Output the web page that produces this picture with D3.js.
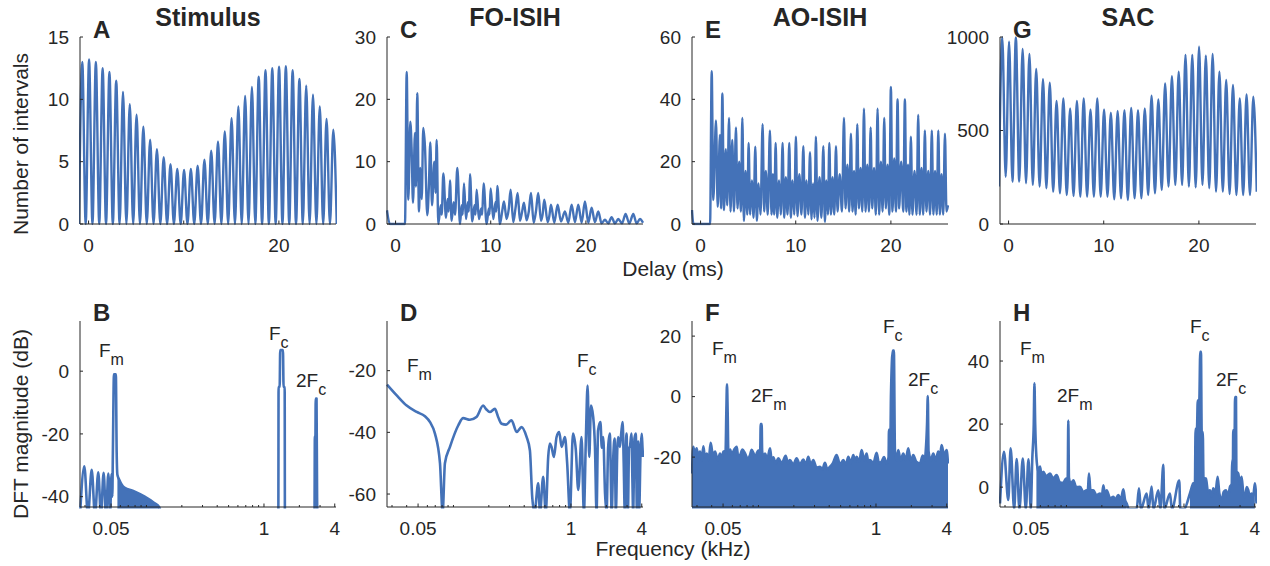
<!DOCTYPE html>
<html>
<head>
<meta charset="utf-8">
<script src="https://cdn.jsdelivr.net/npm/d3@7/dist/d3.min.js"></script>
<style>
  body { margin: 0; background: #fff; }
  svg text { font-family: "Liberation Sans", Arial, sans-serif; fill: #262626; }
</style>
</head>
<body>
<svg id="chart" width="1270" height="566"></svg>
<script>
// tick values
var delayTicks = [0, 10, 20];
var freqTicks = [0.05, 1, 4];
var freqMinor = [0.03, 0.04, 0.06, 0.07, 0.08, 0.09, 0.1, 0.2, 0.3, 0.4, 0.5, 0.6, 0.7, 0.8, 0.9, 2, 3];

// A and G: one peak per carrier cycle (delay in ms)
var cycleStart = -0.66, cyclePeriod = 0.713;
var stimPeaks = [13.0, 13.2, 13.0, 12.5, 12.2, 11.5, 10.6, 9.6, 8.77, 7.8, 6.77, 6.0, 5.35, 4.79, 4.41, 4.33,
    4.41, 4.68, 5.16, 5.88, 6.63, 7.43, 8.48, 9.43, 10.27, 10.99, 11.82, 12.33, 12.49, 12.62, 12.65, 12.33,
    11.63, 11.1, 10.37, 9.43, 8.42, 7.57];
var sacPeaks = [998, 975, 998, 936, 909, 829, 775, 755, 658, 672, 618, 658, 672, 612, 672, 612, 595, 604, 609,
    621, 609, 618, 686, 666, 752, 791, 814, 904, 904, 948, 900, 909, 814, 770, 743, 672, 693, 681];
var sacTroughs = [253, 227, 227, 218, 209, 200, 191, 173, 164, 155, 150, 146, 146, 146, 146, 146, 132, 137, 128,
    137, 137, 155, 164, 182, 200, 209, 209, 200, 196, 209, 191, 173, 173, 160, 155, 155, 155, 173];

// C: first-order ISIH, [delay ms, count]
var foIsih = [[-0.9, 2.2], [-0.6, 0], [0.99, 0], [1.17, 24.4], [1.34, 3.9], [1.55, 16.4], [1.69, 11.9], [1.83, 3.4],
    [2.04, 14.6], [2.14, 6], [2.28, 21], [2.46, 2.0], [2.6, 9], [2.75, 4], [2.91, 15.4], [3.09, 12.4], [3.33, 1.4],
    [3.5, 6], [3.65, 13.1], [3.83, 3], [4.07, 10], [4.2, 5], [4.32, 13.5], [4.49, 0], [4.75, 3], [4.85, 1.5],
    [5.02, 8.1], [5.3, 1.0], [5.47, 4], [5.58, 2], [5.72, 7.0], [5.89, 0.5], [6.1, 3.5], [6.25, 1.5], [6.49, 9.0],
    [6.77, 0], [6.95, 3], [7.05, 1.5], [7.19, 6.5], [7.4, 0.8], [7.6, 3.5], [7.7, 2], [7.82, 8.0], [8.06, 0.4],
    [8.3, 3], [8.4, 1.5], [8.52, 5.5], [8.76, 0.8], [9.0, 2.5], [9.1, 1.5], [9.25, 6.5], [9.57, 0], [9.8, 2.5],
    [9.87, 1.5], [9.99, 5.7], [10.27, 0.8], [10.5, 3.5], [10.58, 2], [10.69, 6.1], [10.97, 0], [11.2, 2],
    [11.39, 3.6], [11.67, 0.8], [11.9, 2.5], [12.09, 5.5], [12.37, 0.3], [12.6, 2.5], [12.83, 5.0], [13.07, 0.5],
    [13.3, 2], [13.49, 3.4], [13.77, 0.6], [14.0, 2], [14.23, 5.0], [14.51, 0.2], [14.75, 2], [14.99, 5.0],
    [15.28, 0.5], [15.45, 1.5], [15.63, 3.9], [15.98, 0.3], [16.15, 1.2], [16.33, 3.1], [16.68, 0.2], [17.03, 3.1],
    [17.38, 0.4], [17.8, 2.0], [18.15, 0.2], [18.5, 3.1], [18.85, 0.3], [19.2, 3.1], [19.55, 0.2], [19.9, 3.6],
    [20.25, 0.2], [20.6, 2.6], [20.95, 0.3], [21.3, 2.0], [21.65, 0.1], [22.0, 0.7], [22.35, 0.1], [22.7, 1.1],
    [23.05, 0.1], [23.4, 0.8], [23.79, 0.1], [24.17, 1.6], [24.56, 0.1], [24.98, 1.6], [25.33, 0.1], [25.68, 0.8],
    [26.0, 0.2]];

// E: all-order ISIH, [delay ms, count]
var aoIsih = [[-0.9, 4.5], [-0.75, 0], [1.0, 0], [1.17, 49], [1.34, 7.7], [1.62, 33.2], [1.8, 5.5], [2.04, 28.6],
    [2.15, 5], [2.29, 41.9], [2.46, 4.5], [2.65, 24], [2.8, 6],
    [2.99, 34], [3.15, 4], [3.33, 27], [3.51, 4], [3.72, 31], [3.88, 5], [4.06, 20], [4.24, 4],
    [4.39, 34], [4.55, 1], [4.73, 17], [4.91, 3], [5.05, 26], [5.21, 3], [5.39, 14], [5.57, 2],
    [5.75, 24.8], [5.91, 1], [6.09, 13], [6.3, 3], [6.52, 32], [6.68, 4], [6.86, 17], [7.06, 3],
    [7.29, 30], [7.45, 3], [7.6, 16], [7.74, 3], [7.89, 26], [8.05, 2], [8.25, 14], [8.43, 3],
    [8.62, 26], [8.78, 2], [8.96, 15], [9.14, 3], [9.32, 26], [9.48, 2], [9.66, 14], [9.84, 3],
    [10.02, 28], [10.18, 2.5], [10.38, 16], [10.6, 3], [10.8, 25], [10.96, 2], [11.14, 14], [11.32, 3],
    [11.5, 23], [11.66, 1.5], [11.82, 13], [11.97, 2], [12.12, 28], [12.28, 1], [12.5, 15], [12.7, 2],
    [12.9, 25], [13.06, 0.7], [13.22, 14], [13.38, 3], [13.53, 26], [13.69, 3], [13.87, 15], [14.05, 3],
    [14.23, 25], [14.39, 4], [14.62, 16], [14.86, 4], [15.07, 34], [15.23, 5], [15.43, 19], [15.62, 4],
    [15.8, 29], [15.96, 4], [16.13, 17], [16.3, 3], [16.47, 32], [16.63, 5], [16.82, 18], [17.0, 4],
    [17.17, 37], [17.33, 4], [17.52, 19], [17.7, 4], [17.87, 31], [18.03, 5], [18.23, 18], [18.42, 3],
    [18.6, 37], [18.76, 3], [18.95, 20], [19.13, 4], [19.3, 34], [19.46, 5], [19.65, 19], [19.83, 3],
    [20.0, 44], [20.16, 4], [20.35, 21], [20.53, 4], [20.7, 40], [20.86, 5], [21.08, 20], [21.3, 4],
    [21.47, 40], [21.63, 4], [21.8, 19], [21.95, 3], [22.1, 28], [22.26, 3], [22.48, 17], [22.7, 3],
    [22.87, 35], [23.03, 3], [23.22, 18], [23.4, 3], [23.57, 30], [23.73, 4], [23.93, 17], [24.12, 3],
    [24.3, 30], [24.46, 3], [24.64, 17], [24.82, 3], [24.98, 30], [25.14, 3], [25.32, 16], [25.5, 3],
    [25.68, 29], [25.84, 4], [26.0, 6]];

// B, D, F, H: DFT magnitude, [frequency kHz, dB]
var stimSpec = [[0.0272, -46], [0.0296, -30.3], [0.0318, -46], [0.0342, -31.4], [0.0365, -46], [0.0389, -32.2],
    [0.041, -46], [0.0432, -32.4], [0.0453, -46], [0.0474, -32.6], [0.049, -46], [0.0505, -32.8], [0.0512, -40],
    [0.0518, -26], [0.0529, -1], [0.0549, -1], [0.0558, -26], [0.0566, -33], [0.0587, -34.6], [0.0648, -37.1],
    [0.0788, -38.3], [0.0958, -39.9], [0.1165, -42], [0.128, -43.3], [0.14, -47], [1.3, -47], [1.325, -46],
    [1.331, -5], [1.36, -5], [1.374, 6.7], [1.45, 6.7], [1.468, -5], [1.5, -5], [1.507, -46], [2.69, -46],
    [2.71, -20.7], [2.74, -20.7], [2.755, -8.7], [2.8, -8.7], [2.83, -40], [2.85, -46], [4.1, -46]];
var foSpec = [[0.0272, -24.5], [0.0329, -28], [0.04, -31.3], [0.0487, -33.4], [0.0572, -34.8], [0.0632, -36.7],
    [0.0696, -40.4], [0.0768, -50], [0.0809, -66], [0.0846, -50], [0.0934, -44.7], [0.11, -37.7], [0.121, -35.4],
    [0.138, -35.9], [0.157, -35], [0.179, -31.3], [0.19, -32.5], [0.204, -33.4], [0.225, -32.4], [0.24, -35],
    [0.257, -37.2], [0.28, -37.5], [0.312, -36.1], [0.345, -39.9], [0.38, -38.3], [0.419, -41.5], [0.447, -45.8],
    [0.468, -61], [0.49, -66], [0.526, -56.5], [0.545, -66], [0.58, -54.4], [0.61, -66], [0.64, -48], [0.66, -43.6],
    [0.683, -44.7], [0.716, -48], [0.754, -41.5], [0.794, -39.9], [0.832, -44.7], [0.888, -41.5], [0.928, -50],
    [0.979, -66], [1.04, -40.4], [1.1, -45.8], [1.153, -58.7], [1.23, -41.5], [1.287, -66], [1.34, -41.5],
    [1.385, -24.8], [1.43, -48], [1.48, -31.3], [1.545, -35], [1.6, -44.7], [1.65, -66], [1.7, -39.4],
    [1.78, -36.7], [1.83, -45], [1.88, -41.5], [1.95, -60], [2.01, -66], [2.07, -45], [2.14, -40.4], [2.22, -66],
    [2.29, -48], [2.35, -42], [2.41, -66], [2.48, -45], [2.52, -41.5], [2.61, -44.7], [2.68, -40], [2.75, -36.7],
    [2.81, -50], [2.87, -66], [2.93, -45], [2.97, -40.4], [3.05, -66], [3.12, -45], [3.17, -44.7], [3.27, -40.4],
    [3.33, -55], [3.38, -66], [3.47, -42], [3.56, -40.4], [3.64, -66], [3.73, -43], [3.8, -66], [3.91, -45.8],
    [4.0, -40.5], [4.06, -45], [4.1, -48]];
var aoSpec = [[0.0272, -25.4], [0.0279, -16.6], [0.0288, -19], [0.0298, -17.1], [0.0308, -20], [0.0318, -18.2],
    [0.0329, -21], [0.034, -16.4], [0.035, -20], [0.0363, -18.8], [0.0377, -21], [0.0392, -15.3], [0.041, -19.5],
    [0.0427, -18.2], [0.045, -21], [0.0471, -18.8], [0.0487, -20.5], [0.0503, -18.2], [0.0525, -18], [0.0533, -5],
    [0.054, 4.1], [0.0547, -5], [0.0555, -19], [0.0575, -17.5], [0.0592, -19.3], [0.062, -17.6], [0.0653, -16.6],
    [0.067, -19.5], [0.0697, -19.3], [0.073, -17.5], [0.0769, -18.8], [0.081, -20.5], [0.0848, -19.3],
    [0.0875, -17.6], [0.0905, -18.6], [0.094, -20.5], [0.0966, -18.8], [0.1, -17.8], [0.1035, -18], [0.1045, -9.1],
    [0.1065, -9.1], [0.1075, -18], [0.11, -20], [0.1137, -18.8], [0.119, -20.5], [0.1255, -17.1], [0.1295, -21],
    [0.1339, -20.1], [0.14, -22], [0.1477, -20.4], [0.158, -22], [0.1706, -19.6], [0.178, -22], [0.1852, -21],
    [0.198, -22.5], [0.2112, -20.4], [0.225, -22.5], [0.2408, -20.8], [0.253, -22.5], [0.2655, -19.9],
    [0.279, -22.5], [0.2928, -21], [0.312, -23.5], [0.3336, -23.2], [0.35, -24], [0.3679, -21.9], [0.385, -24],
    [0.4057, -23.2], [0.43, -22], [0.4624, -19.3], [0.495, -22.5], [0.5273, -21], [0.555, -22.5], [0.5815, -19.9],
    [0.61, -22], [0.6413, -19.3], [0.665, -21.5], [0.6846, -19.9], [0.72, -21.5], [0.755, -17.7], [0.795, -21],
    [0.8325, -18.8], [0.86, -21.5], [0.889, -21], [0.95, -22], [1.0124, -18.6], [1.06, -22], [1.1163, -21.5],
    [1.17, -20], [1.231, -22.1], [1.28, -20], [1.29, -11], [1.33, -11], [1.34, -0.3], [1.39, 15.2], [1.42, 15.2],
    [1.45, -18], [1.5, -21], [1.5476, -17.7], [1.62, -21], [1.7066, -18.8], [1.79, -21], [1.882, -17.1],
    [1.98, -21.5], [2.075, -19.3], [2.2, -21.5], [2.366, -22.1], [2.5, -19.5], [2.6, -21], [2.65, -18], [2.72, -9],
    [2.76, 0.2], [2.8, -18], [2.93, -21], [3.073, -18.8], [3.22, -21], [3.389, -18.2], [3.5, -20], [3.617, -16],
    [3.8, -19.5], [3.989, -17.7], [4.1, -22.1]];
var sacSpec = [[0.0272, -5.2], [0.0294, 11.2], [0.032, -4.1], [0.0335, 12.3], [0.0359, -7], [0.0377, 8.9],
    [0.0398, -7], [0.0425, 9.1], [0.0451, -7], [0.0475, 8.8], [0.0497, -7], [0.0512, 9], [0.0527, 20],
    [0.0534, 32.9], [0.0542, 20], [0.0555, 9.6], [0.0575, 5], [0.0596, 6.5], [0.0615, 3.5], [0.0636, 4.9],
    [0.067, 3.5], [0.0725, 4.3], [0.077, 2.8], [0.0825, 3.8], [0.088, 1.5], [0.0941, 1.4], [0.098, 2.5],
    [0.1025, 3], [0.1037, 21.1], [0.105, 3], [0.109, 1], [0.1144, 2.2], [0.121, 0], [0.1303, 0.1], [0.139, -1.5],
    [0.1486, -1.0], [0.152, -1], [0.1555, 4.3], [0.16, -1], [0.1694, -1.0], [0.18, -2.5], [0.193, -2.0],
    [0.2, -3], [0.2061, 0.6], [0.213, -2.5], [0.2199, -1.0], [0.235, -3.5], [0.2506, -3.1], [0.26, -4],
    [0.2763, -2.5], [0.29, -4], [0.3048, -0.7], [0.315, -4], [0.3254, -5.2], [0.34, -7], [0.3956, -7],
    [0.4141, -0.4], [0.43, -7], [0.4811, -2], [0.5, -7], [0.5304, 0.2], [0.55, -7], [0.6048, -1], [0.63, -7],
    [0.667, 7.1], [0.68, -7], [0.7598, -2], [0.79, -7], [0.9119, 2.1], [0.93, -7], [1.0, -7], [1.1237, -2],
    [1.1995, 1.2], [1.24, 1.5], [1.255, 18.5], [1.29, 18.5], [1.31, 27.5], [1.35, 27.5], [1.375, 42.9],
    [1.395, 42.9], [1.415, 17.5], [1.445, 17.5], [1.465, 3], [1.538, 2.7], [1.6, -1.5], [1.6637, -1], [1.72, -3],
    [1.7756, -0.4], [1.85, -2], [1.9333, 3.3], [2.0, -2], [2.09, -4.1], [2.18, -1.5], [2.276, -1], [2.37, -3],
    [2.461, 0.1], [2.55, 1], [2.57, 8.6], [2.61, 8.6], [2.625, 18], [2.7, 18], [2.72, 28.6], [2.77, 28.6],
    [2.79, 5], [2.897, 4.3], [2.99, 1], [3.092, 3.3], [3.2, -2], [3.3, -3.1], [3.42, 0], [3.523, -1], [3.64, -3],
    [3.76, -2], [3.88, -3], [4.01, 1.2], [4.14, -5.2]];

(function () {
    "use strict";

    var W = 256, HT = 187, HB = 186;
    var blue = "#4472b8", ink = "#262626";
    var svg = d3.select("#chart");

    // periodic traces: peak, then trough half a cycle later
    function cyclePts(peaks, troughs, lead) {
        var pts = [[cycleStart - cyclePeriod / 2, lead]];
        peaks.forEach(function (p, k) {
            var t = cycleStart + k * cyclePeriod;
            pts.push([t, p]);
            pts.push([t + cyclePeriod / 2, Array.isArray(troughs) ? troughs[k] : troughs]);
        });
        return pts;
    }

    var tops = [
        {left: 80, letter: "A", title: "Stimulus", yMax: 15, yTicks: [0, 5, 10, 15], pts: cyclePts(stimPeaks, 0, 0)},
        {left: 387, letter: "C", title: "FO-ISIH", yMax: 30, yTicks: [0, 10, 20, 30], pts: foIsih},
        {left: 692, letter: "E", title: "AO-ISIH", yMax: 60, yTicks: [0, 20, 40, 60], pts: aoIsih},
        {left: 1000, letter: "G", title: "SAC", yMax: 1000, yTicks: [0, 500, 1000], pts: cyclePts(sacPeaks, sacTroughs, 200)}
    ];
    var bots = [
        {left: 80, letter: "B", yDom: [-43.3, 16], yTicks: [-40, -20, 0], pts: stimSpec, bands: [[0.056, 0.13]],
            notes: [["F", "m", 19, 36], ["F", "c", 189, 19], ["2F", "c", 216, 66]]},
        {left: 387, letter: "D", yDom: [-64.2, -3.9], yTicks: [-60, -40, -20], pts: foSpec, bands: [],
            notes: [["F", "m", 20, 51], ["F", "c", 190, 46]]},
        {left: 692, letter: "F", yDom: [-36.5, 25], yTicks: [-20, 0, 20], pts: aoSpec, bands: [[0.027, 4.1]],
            notes: [["F", "m", 20, 34], ["2F", "m", 59, 81], ["F", "c", 191, 12], ["2F", "c", 216, 65]]},
        {left: 1000, letter: "H", yDom: [-6.3, 52.7], yTicks: [0, 20, 40], pts: sacSpec, bands: [[0.055, 0.33], [1.12, 4.1]],
            notes: [["F", "m", 20, 34], ["2F", "m", 57, 81], ["F", "c", 190, 12], ["2F", "c", 216, 65]]}
    ];

    function axes(g, x, y, h, xt, xfmt, yt, minor) {
        g.append("line").attr("x1", 0).attr("x2", 0).attr("y1", 0).attr("y2", h)
            .attr("stroke", ink).attr("stroke-width", 1);
        g.append("line").attr("x1", 0).attr("x2", W).attr("y1", h).attr("y2", h)
            .attr("stroke", ink).attr("stroke-width", 1);
        yt.forEach(function (v) {
            g.append("line").attr("x1", 0).attr("x2", 3).attr("y1", y(v)).attr("y2", y(v)).attr("stroke", ink);
            g.append("text").attr("x", -11).attr("y", y(v)).attr("dy", "0.35em")
                .attr("text-anchor", "end").attr("font-size", 19).text(v);
        });
        (minor || []).forEach(function (v) {
            g.append("line").attr("x1", x(v)).attr("x2", x(v)).attr("y1", h).attr("y2", h - 2).attr("stroke", ink);
        });
        xt.forEach(function (v) {
            g.append("line").attr("x1", x(v)).attr("x2", x(v)).attr("y1", h).attr("y2", h - 3.5).attr("stroke", ink);
            g.append("text").attr("x", x(v)).attr("y", h + 21).attr("dy", "0.35em")
                .attr("text-anchor", "middle").attr("font-size", 19).text(xfmt(v));
        });
    }

    function clip(id, h) {
        svg.append("clipPath").attr("id", id).append("rect")
            .attr("x", -1).attr("y", -2).attr("width", W + 2).attr("height", h + 3.5);
        return "url(#" + id + ")";
    }

    tops.forEach(function (p, i) {
        var g = svg.append("g").attr("transform", "translate(" + p.left + ",37)");
        var x = d3.scaleLinear().domain([-0.9, 26]).range([0, W]);
        var y = d3.scaleLinear().domain([0, p.yMax]).range([HT, 0]);
        var line = d3.line().x(function (d) { return x(d[0]); })
            .y(function (d) { return y(d[1]); }).curve(d3.curveMonotoneX);
        g.append("path").datum(p.pts).attr("d", line).attr("fill", "none")
            .attr("stroke", blue).attr("stroke-width", 2.4).attr("stroke-linejoin", "round")
            .attr("clip-path", clip("ct" + i, HT));
        axes(g, x, y, HT, delayTicks, String, p.yTicks);
        g.append("text").attr("x", 13).attr("y", 1).attr("font-size", 24).attr("font-weight", "bold").text(p.letter);
        g.append("text").attr("x", W / 2).attr("y", -11).attr("text-anchor", "middle")
            .attr("font-size", 25).attr("font-weight", "bold").text(p.title);
    });

    bots.forEach(function (p, i) {
        var g = svg.append("g").attr("transform", "translate(" + p.left + ",321)");
        var x = d3.scaleLog().domain([0.0272, 4.1]).range([0, W]);
        var y = d3.scaleLinear().domain(p.yDom).range([HB, 0]);
        var cp = clip("cb" + i, HB);
        var line = d3.line().x(function (d) { return x(d[0]); })
            .y(function (d) { return y(d[1]); }).curve(d3.curveMonotoneX);
        var area = d3.area().x(function (d) { return x(d[0]); })
            .y0(HB + 2).y1(function (d) { return y(d[1]); }).curve(d3.curveMonotoneX);
        p.bands.forEach(function (b) {
            var seg = p.pts.filter(function (d) { return d[0] >= b[0] && d[0] <= b[1]; });
            g.append("path").datum(seg).attr("d", area).attr("fill", blue).attr("clip-path", cp);
        });
        g.append("path").datum(p.pts).attr("d", line).attr("fill", "none")
            .attr("stroke", blue).attr("stroke-width", 2.6).attr("stroke-linejoin", "round")
            .attr("clip-path", cp);
        axes(g, x, y, HB, freqTicks, String, p.yTicks, freqMinor);
        g.append("text").attr("x", 13).attr("y", 0).attr("font-size", 24).attr("font-weight", "bold").text(p.letter);
        p.notes.forEach(function (n) {
            var t = g.append("text").attr("x", n[2]).attr("y", n[3]).attr("font-size", 19).text(n[0]);
            t.append("tspan").attr("dy", 8).attr("font-size", 16).text(n[1]);
        });
    });

    // shared axis labels
    svg.append("text").attr("transform", "translate(28,144) rotate(-90)").attr("text-anchor", "middle")
        .attr("font-size", 21).text("Number of intervals");
    svg.append("text").attr("transform", "translate(28,424) rotate(-90)").attr("text-anchor", "middle")
        .attr("font-size", 21).text("DFT magnitude (dB)");
    svg.append("text").attr("x", 673).attr("y", 276).attr("text-anchor", "middle")
        .attr("font-size", 21).text("Delay (ms)");
    svg.append("text").attr("x", 673).attr("y", 556).attr("text-anchor", "middle")
        .attr("font-size", 21).text("Frequency (kHz)");
}());
</script>
</body>
</html>
